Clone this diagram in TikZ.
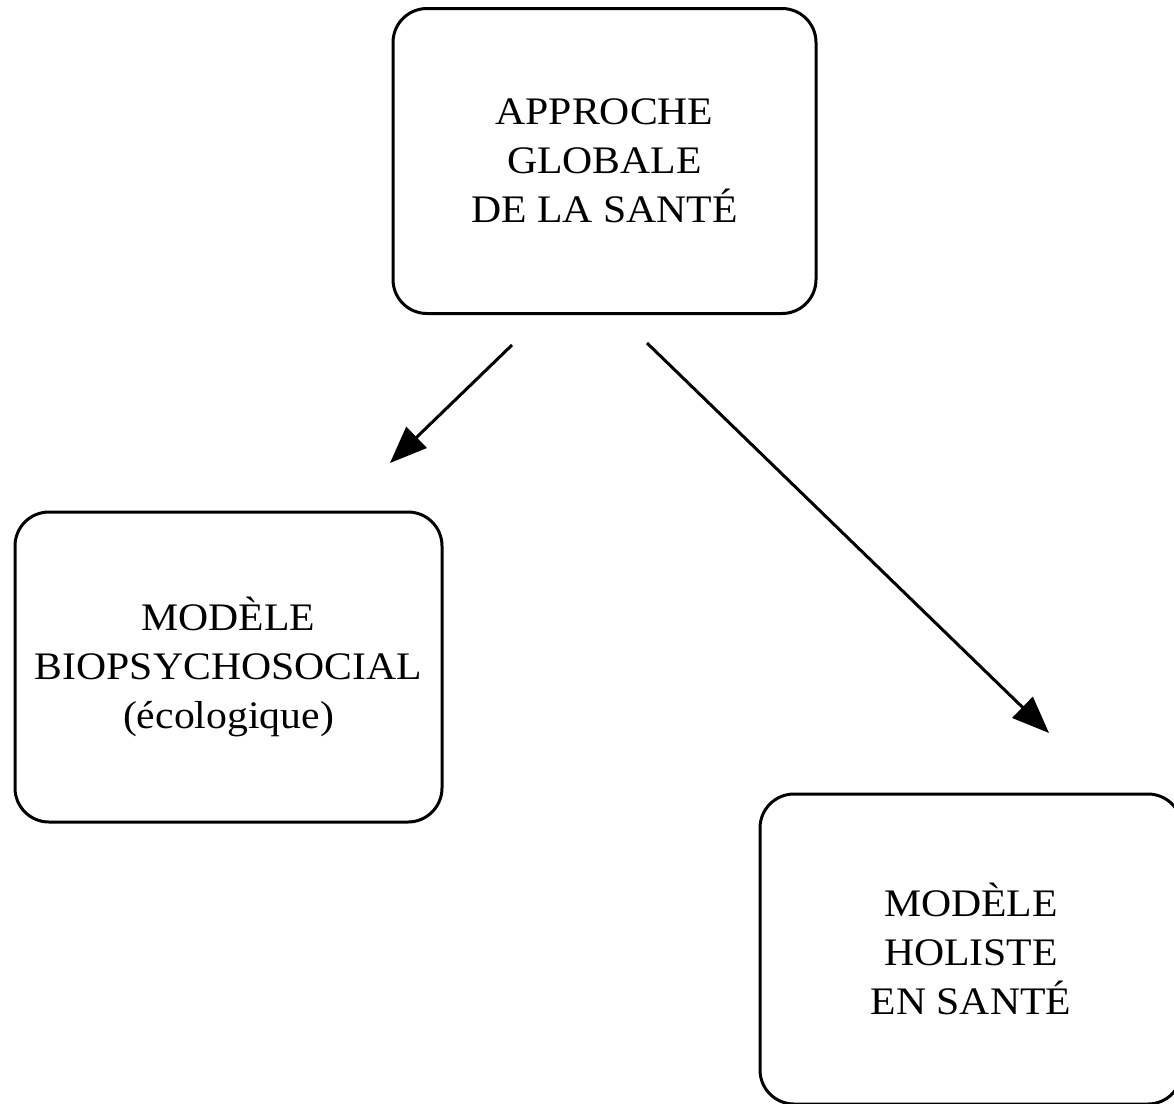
\documentclass[tikz,border=0pt]{standalone}
\usepackage{fontspec}
\setmainfont{Liberation Serif}[FakeStretch=1.07]
\usetikzlibrary{arrows.meta}
\tikzset{
  box/.style={draw, line width=3pt, rounded corners=34pt, align=center,
    inner sep=0pt, font=\fontsize{39}{49}\selectfont},
  link/.style={line width=3pt, -{Triangle[length=37pt,width=29pt]}}
}
\begin{document}
\begin{tikzpicture}[x=1pt, y=-1pt]
  \useasboundingbox (0,0) rectangle (1174,1103);
  % boxes
  \node[box, minimum width=423pt, minimum height=305pt] (top) at (604.5,161)
    {APPROCHE\\GLOBALE\\DE LA SANTÉ};
  \node[box, minimum width=427pt, minimum height=310pt] (bio) at (228.5,667)
    {MODÈLE\\BIOPSYCHOSOCIAL\\(écologique)};
  \node[box, minimum width=422pt, minimum height=310pt] (hol) at (971,949)
    {MODÈLE\\HOLISTE\\EN SANTÉ};
  % free ends of the arrows
  \coordinate (s1) at (512,345);
  \coordinate (e1) at (390,463);
  \coordinate (s2) at (647,343);
  \coordinate (e2) at (1049,733);
  \draw[link] (s1) -- (e1);
  \draw[link] (s2) -- (e2);
\end{tikzpicture}
\end{document}
